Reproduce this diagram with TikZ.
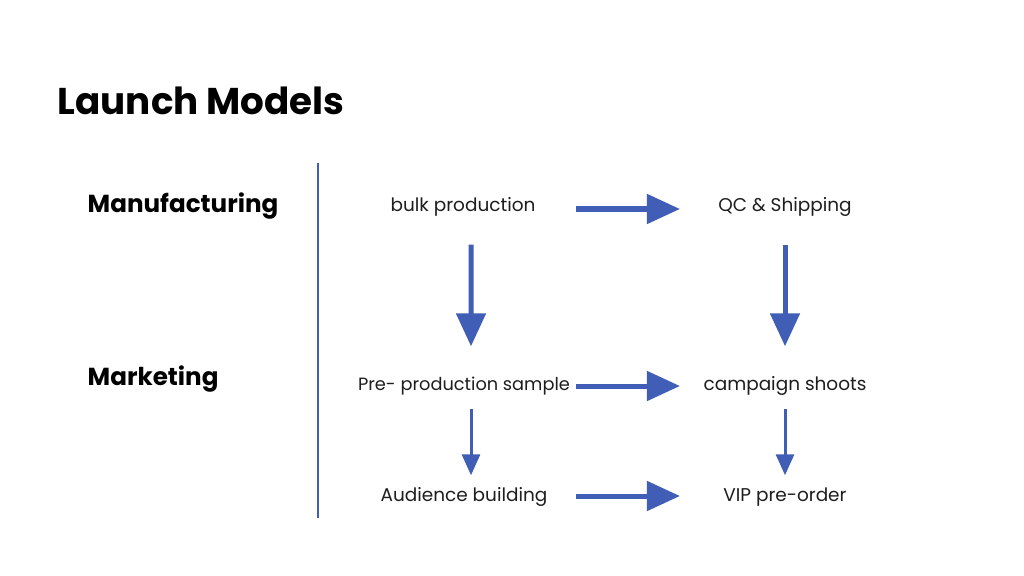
\documentclass[tikz,border=0pt]{standalone}
\usepackage{fontspec}
\setmainfont{Poppins}
\usepackage{xcolor}
\usetikzlibrary{arrows.meta}
\definecolor{flowblue}{RGB}{64,94,181}
\definecolor{inkgray}{RGB}{30,30,30}

\begin{document}
\begin{tikzpicture}[x=0.01cm, y=-0.01cm,
    rowhead/.style={anchor=west, inner sep=0pt, text=black, font=\bfseries\fontsize{7}{8}\selectfont},
    item/.style={inner sep=0pt, text=inkgray, text height=1.4mm, text depth=0.4mm, font=\fontsize{5.25}{7}\selectfont},
    bigflow/.style={-{Triangle[length=3.3mm, width=2.9mm]}, flowblue, line width=0.5mm},
    smallflow/.style={-{Triangle[length=2.1mm, width=1.8mm]}, flowblue, line width=0.3mm}]
    \useasboundingbox[fill=white] (0,0) rectangle (1024,576);

    % Title
    \node[anchor=west, inner sep=0pt, font=\bfseries\fontsize{10.6}{12}\selectfont] (title) at (57,101) {Launch Models};

    % Row headings and divider
    \node[rowhead] (manu) at (87,206) {Manufacturing};
    \node[rowhead] (mark) at (87,379) {Marketing};
    \coordinate (divtop) at (318,163);
    \coordinate (divbot) at (318,518);
    \draw[flowblue, line width=0.2mm] (divtop) -- (divbot);

    % Steps
    \node[item] (bulk) at (463,206) {bulk production};
    \node[item] (qc) at (785,206) {QC \& Shipping};
    \node[item, font=\fontsize{5.05}{7}\selectfont] (pre) at (464,385) {Pre- production sample};
    \node[item] (camp) at (785,385) {campaign shoots};
    \node[item] (aud) at (464,496) {Audience building};
    \node[item] (vip) at (785,496) {VIP pre-order};

    % Horizontal arrows
    \draw[bigflow, shorten <=11.3mm, shorten >=10.5mm] ([yshift=-0.3mm]bulk.center) -- ([yshift=-0.3mm]qc.center);
    \draw[bigflow, shorten <=11.2mm, shorten >=10.5mm] ([yshift=-0.1mm]pre.center) -- ([yshift=-0.1mm]camp.center);
    \draw[bigflow, shorten <=11.2mm, shorten >=10.5mm] (aud.center) -- (vip.center);

    % Vertical arrows
    \draw[bigflow, shorten <=2.9mm, shorten >=2.9mm] ([xshift=0.8mm]bulk.south) -- ([xshift=0.7mm]pre.north);
    \draw[bigflow, shorten <=2.9mm, shorten >=2.9mm] (qc.south) -- (camp.north);
    \draw[smallflow, shorten <=1.4mm, shorten >=1.1mm] ([xshift=0.7mm]pre.south) -- ([xshift=0.7mm]aud.north);
    \draw[smallflow, shorten <=1.4mm, shorten >=1.1mm] (camp.south) -- (vip.north);

\end{tikzpicture}
\end{document}
